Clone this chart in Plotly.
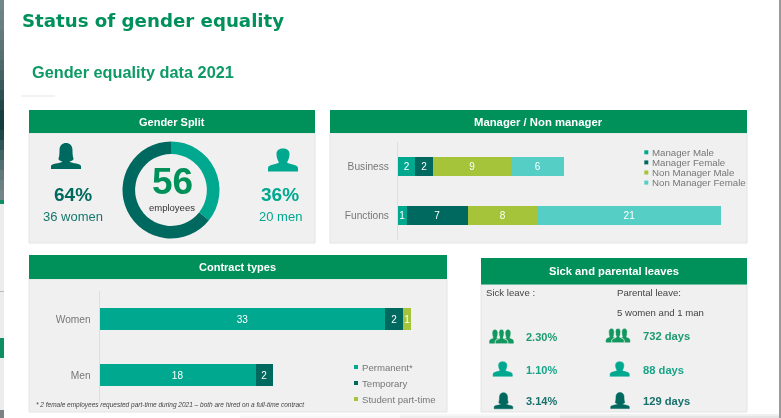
import plotly.graph_objects as go

W, H = 781, 418

# ---------- data ----------
gender_labels = ["Men", "Women"]
gender_values = [20, 36]

mgr_categories = ["Business", "Functions"]
mgr_series = ["Manager Male", "Manager Female", "Non Manager Male", "Non Manager Female"]
mgr_manager_male = [2, 1]
mgr_manager_female = [2, 7]
mgr_non_manager_male = [9, 8]
mgr_non_manager_female = [6, 21]

contract_categories = ["Women", "Men"]
contract_series = ["Permanent*", "Temporary", "Student part-time"]
contract_permanent = [33, 18]
contract_temporary = [2, 2]
contract_student = [1, None]

sick_labels = ["2.30%", "1.10%", "3.14%"]
parental_labels = ["732 days", "88 days", "129 days"]

# ---------- styles ----------
GREEN = "#00915A"
TEAL = "#00A88F"
DARK = "#00695F"
LIME = "#A5C43A"
AQUA = "#55CFC5"
PANEL = "#F0F0F0"
EDGE = "#E2E4E3"
FONT = "Liberation Sans"


def px(x):
    return x / W


def py(y):
    return 1 - y / H


shapes = []
annotations = []


def rect(x0, y0, x1, y1, fill, line=None):
    shapes.append(dict(type="rect", xref="paper", yref="paper", layer="below",
                       x0=px(x0), x1=px(x1), y0=py(y0), y1=py(y1), fillcolor=fill,
                       line=dict(color=line or fill, width=1 if line else 0)))


def text(x, y, s, size=10, color="#444", bold=False, anchor="left", family=FONT, italic=False):
    if bold:
        s = f"<b>{s}</b>"
    if italic:
        s = f"<i>{s}</i>"
    annotations.append(dict(xref="paper", yref="paper", x=px(x), y=py(y), text=s, showarrow=False,
                            xanchor=anchor, yanchor="middle", borderpad=0,
                            font=dict(family=family, size=size, color=color)))


def panel(x0, x1, y0, y1, y2, title, size=11):
    rect(x0, y1, x1, y2, PANEL, EDGE)
    rect(x0, y0, x1, y1, GREEN)
    text((x0 + x1) / 2, (y0 + y1) / 2, title, size=size, color="white", bold=True, anchor="center")


MAN = [("M", -15, 11.5), ("L", -15, 8), ("C", -15, 4.5, -7, 4.5, -4, 2.5), ("C", -5.5, 0, -6.5, -3, -6.5, -6),
       ("C", -6.5, -10, -3.5, -11.5, 0, -11.5), ("C", 3.5, -11.5, 6.5, -10, 6.5, -6), ("C", 6.5, -3, 5.5, 0, 4, 2.5),
       ("C", 7, 4.5, 15, 4.5, 15, 8), ("L", 15, 11.5), ("Z",)]
WOMAN = [("M", -15, 13), ("L", -15, 10), ("C", -15, 7.5, -6, 7.5, -3.5, 5.5), ("C", -6, 5, -8, 4, -7.5, 2.5),
         ("C", -6.5, 0, -6.5, -4, -6.5, -6), ("C", -6.5, -10.5, -3.5, -13, 0, -13), ("C", 3.5, -13, 6.5, -10.5, 6.5, -6),
         ("C", 6.5, -4, 6.5, 0, 7.5, 2.5), ("C", 8, 4, 6, 5, 3.5, 5.5), ("C", 6, 7.5, 15, 7.5, 15, 10),
         ("L", 15, 13), ("Z",)]


def icon(kind, cx, cy, sx, color, outline=None, sy=None, lw=0.0):
    sy = sy if sy is not None else sx
    parts = []
    for cmd in kind:
        nums = cmd[1:]
        pts = []
        for i in range(0, len(nums), 2):
            pts.append(f"{px(cx + nums[i] * sx):.5f},{py(cy + nums[i + 1] * sy):.5f}")
        parts.append(cmd[0] + " ".join(pts))
    shapes.append(dict(type="path", xref="paper", yref="paper", layer="above", path=" ".join(parts),
                       fillcolor=color,
                       line=dict(color=outline or color, width=lw)))


def group(cx, cy, color):
    icon(MAN, cx - 6.5, cy + 0.5, 0.36, color, sy=0.58, lw=0.5)
    icon(MAN, cx + 6.5, cy + 0.5, 0.36, color, sy=0.58, lw=0.5)
    icon(MAN, cx, cy + 0.5, 0.42, color, outline=PANEL, sy=0.64, lw=0.8)


def swatch(x, y, color, s=4):
    shapes.append(dict(type="rect", xref="paper", yref="paper", layer="above",
                       x0=px(x), x1=px(x + s), y0=py(y - s / 2), y1=py(y + s / 2),
                       fillcolor=color, line=dict(width=0)))


# ---------- page background ----------
strip_colors = ["#72878A", "#6D8285", "#687E81", "#63797C", "#5D7477", "#566F71", "#4E686B", "#456164",
                "#3A595B", "#2E5052", "#214748", "#173F41", "#143C3E", "#1F4748", "#315659", "#436466",
                "#536F71", "#62797B", "#6C8082", "#73878A"]
for i, c in enumerate(strip_colors):
    rect(0, i * 10, 4, (i + 1) * 10, c)
rect(0, 200, 4, 204, "#0E8F62")
rect(0, 204, 4, 410, "#ECECEC")
rect(0, 291, 4, 292, "#BDBDBD")
rect(0, 338, 4, 358, "#0E8F62")
rect(0, 410, 4, 418, "#7C8284")
fade_rows = [(414, "#FBFBFB", "#F6F6F6", "#F0F0F0"), (416, "#F7F7F7", "#EEEEEE", "#E4E4E4")]
for y0, c1, c2, c3 in fade_rows:
    rect(240, y0, 400, y0 + 2, c1)
    rect(400, y0, 560, y0 + 2, c2)
    rect(560, y0, 781, y0 + 2, c3)
rect(779, 0, 781, 418, "#9A9A9A")
rect(21, 95.5, 55, 96.5, "#E6E6E6")

text(20.5, 21, "Status of gender equality", size=18.2, color=GREEN, bold=True, family="DejaVu Sans")
text(31, 72, "Gender equality data 2021", size=16.3, color="#0E9A66", bold=True)

panel(29, 315, 110, 133, 243, "Gender Split", size=11)
panel(330, 747, 110, 133, 243, "Manager / Non manager", size=11.3)
panel(29, 447, 255, 279, 412, "Contract types", size=11)
panel(481, 747, 258, 284.5, 412, "Sick and parental leaves", size=11.2)

# ---------- gender split ----------
icon(WOMAN, 66, 156, 1, DARK)
icon(MAN, 283, 160, 1, TEAL)
text(72.5, 195, "64%", size=19, color=DARK, bold=True, anchor="center")
text(73, 216, "36 women", size=13, color="#15786C", anchor="center")
text(280, 195, "36%", size=19, color=TEAL, bold=True, anchor="center")
text(280, 216, "20 men", size=13, color=TEAL, anchor="center")
text(172.5, 182, "56", size=37, color=GREEN, bold=True, anchor="center")
text(172, 208, "employees", size=9.5, color="#333", anchor="center")

# ---------- legends ----------
for i, (name, col) in enumerate(zip(mgr_series, [TEAL, DARK, LIME, AQUA])):
    yy = 152.3 + i * 10.1
    swatch(644.3, yy, col)
    text(651, yy, name, size=9.7, color="#777")
for i, (name, col) in enumerate(zip(contract_series, [TEAL, DARK, LIME])):
    yy = 367 + i * 16
    swatch(354, yy, col)
    text(361, yy, name, size=9.6, color="#777")
text(35, 405, "* 2 female employees requested part-time during 2021 – both are hired on a full-time contract",
     size=6.5, color="#444", italic=True)

# ---------- leaves ----------
text(485, 292.5, "Sick leave :", size=9.6, color="#444")
text(616, 292.5, "Parental leave:", size=9.6, color="#444")
text(616, 312, "5 women and 1 man", size=9.6, color="#444")
leave_y = [336.5, 370, 401]
leave_col = ["#1E9A6E", "#18A587", "#17706A"]
for s, p, yy, c in zip(sick_labels, parental_labels, leave_y, leave_col):
    text(525, yy, s, size=11, color=c, bold=True)
    text(642, yy - 0.5, p, size=11.2, color=c, bold=True)
group(501.5, 336, "#12975F")
icon(MAN, 502.7, 369, 0.64, TEAL, lw=0.5)
icon(WOMAN, 503.5, 400.7, 0.62, DARK, lw=0.5)
group(618, 335, "#12975F")
icon(MAN, 619.7, 369, 0.64, TEAL, lw=0.5)
icon(WOMAN, 620, 400.5, 0.62, DARK, lw=0.5)

# ---------- traces ----------
fig = go.Figure()
fig.add_trace(go.Pie(labels=gender_labels, values=gender_values, hole=0.74, sort=False,
                     direction="clockwise", rotation=0, textinfo="none", showlegend=False,
                     marker=dict(colors=[TEAL, DARK], line=dict(width=0)),
                     domain=dict(x=[px(122.5), px(219.5)], y=[py(238.5), py(141.5)])))

for name, vals, col in zip(mgr_series,
                           [mgr_manager_male, mgr_manager_female, mgr_non_manager_male, mgr_non_manager_female],
                           [TEAL, DARK, LIME, AQUA]):
    fig.add_trace(go.Bar(name=name, y=mgr_categories, x=vals, orientation="h", xaxis="x", yaxis="y",
                         marker=dict(color=col, line=dict(width=0)), text=vals, showlegend=False,
                         textposition="inside", insidetextanchor="middle", constraintext="none",
                         textangle=0,
                         textfont=dict(family=FONT, size=10, color="white")))

for name, vals, col in zip(contract_series, [contract_permanent, contract_temporary, contract_student],
                           [TEAL, DARK, LIME]):
    fig.add_trace(go.Bar(name=name, y=contract_categories, x=vals, orientation="h", xaxis="x2", yaxis="y2",
                         marker=dict(color=col, line=dict(width=0)), text=vals, showlegend=False,
                         textposition="inside", insidetextanchor="middle", constraintext="none",
                         textangle=0,
                         textfont=dict(family=FONT, size=10, color="white")))

hidden_x = dict(visible=False, fixedrange=True)
fig.update_layout(
    width=W, height=H, margin=dict(l=0, r=0, t=0, b=0, pad=0),
    paper_bgcolor="white", plot_bgcolor="rgba(0,0,0,0)",
    barmode="stack", bargap=0.6, showlegend=False,
    shapes=shapes, annotations=annotations,
    xaxis=dict(domain=[px(398), px(745)], range=[0, 347 / 8.73], **hidden_x),
    yaxis=dict(domain=[py(240), py(142)], anchor="x", autorange="reversed", showline=True,
               linecolor="#DEDEDE", linewidth=1, ticks="", showgrid=False, zeroline=False,
               ticklabelstandoff=6, tickfont=dict(family=FONT, size=10.2, color="#777")),
    xaxis2=dict(domain=[px(99.7), px(440)], range=[0, 340.3 / 8.66], **hidden_x),
    yaxis2=dict(domain=[py(403), py(291)], anchor="x2", autorange="reversed", showline=True,
                linecolor="#DEDEDE", linewidth=1, ticks="", showgrid=False, zeroline=False,
                ticklabelstandoff=6, tickfont=dict(family=FONT, size=10.2, color="#777")),
)
fig.write_html("out.html", config=dict(displayModeBar=False),
               post_script="document.body.style.margin='0';"
                           "document.querySelector('.plotly-graph-div').style.filter='blur(0.5px)';")
